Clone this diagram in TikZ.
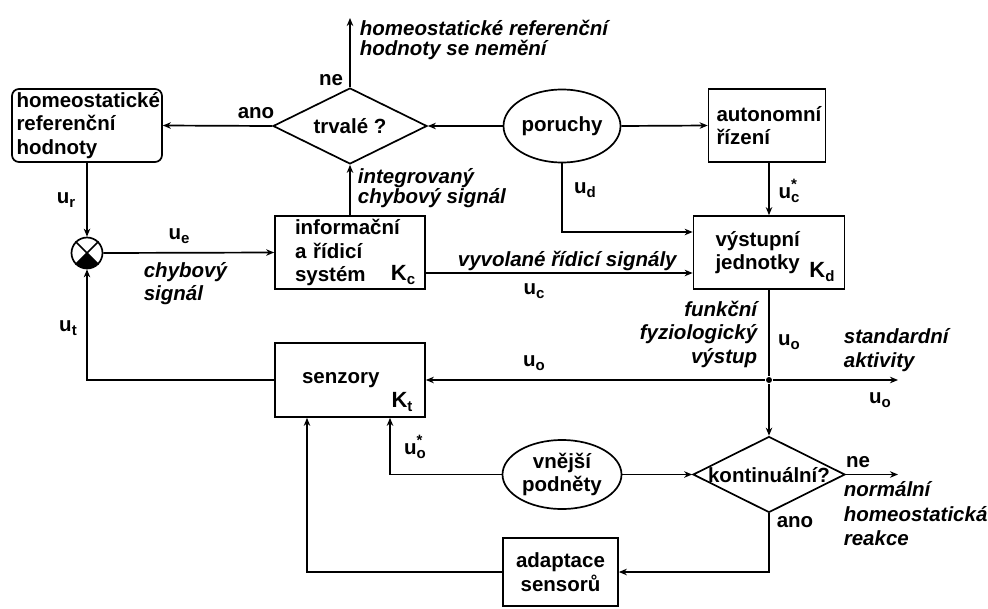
\documentclass[tikz,border=0pt]{standalone}
\usepackage{fontspec}
\setmainfont{Liberation Sans}
\usetikzlibrary{shapes.geometric, positioning, arrows.meta}
\newcommand*{\sig}[2]{#1\raisebox{-0.4ex}{\fontsize{15}{15}\selectfont #2}}
\newcommand*{\sigs}[2]{#1\raisebox{-0.4ex}{\fontsize{15}{15}\selectfont\makebox[0pt][l]{\raisebox{1.6ex}{*}}#2}}

\begin{document}
\begin{tikzpicture}[x=1pt,y=-1pt,line width=1.7pt,
		font=\fontsize{20.5}{23.5}\selectfont\bfseries,
		>={Stealth[length=8pt,width=6.5pt,inset=2.5pt]},
		blok/.style={draw,rectangle,minimum width=#1,minimum height=73pt,inner sep=0pt},
		ovl/.style={draw,ellipse,inner sep=0pt,align=center},
		rozh/.style={draw,diamond,aspect=2,inner sep=0pt,minimum width=154pt,minimum height=76pt},
		lbl/.style={inner sep=0pt},
		ital/.style={inner sep=0pt,align=left,font=\fontsize{20.5}{#1}\selectfont\bfseries\itshape},
		ital/.default=22pt]
	\useasboundingbox (0,0) rectangle (988,608);
	% bloky
	\node[blok=150pt,rounded corners=7pt,text width=141pt,align=left] (ref) at (87,125.5) {homeostatické\\referenční\\hodnoty};
	\node[rozh] (trv) at (350,126) {trvalé ?};
	\node[ovl,minimum width=117pt,minimum height=73pt] (por) at (562,126) {poruchy};
	\node[blok=117pt,text width=101pt,align=left] (aut) at (767,125.5) {autonomní\\řízení};
	\node[draw,circle,inner sep=0pt,minimum size=31pt] (sum) at (87,253) {};
	\node[blok=150pt,text width=110pt,align=left] (inf) at (350,252.5) {informační\\a řídicí\\systém};
	\node[blok=151pt,text width=107pt,align=left] (vys) at (769,252.5) {výstupní\\jednotky};
	\node[blok=150pt,text width=96pt,align=left,minimum height=74pt] (sen) at (350,380) {senzory};
	\node[circle,fill,inner sep=0pt,minimum size=6pt] (dot) at (769,380) {};
	\node[ovl,minimum width=119pt,minimum height=69pt] (vne) at (562,474.5) {vnější\\podněty};
	\node[rozh,minimum width=152pt] (kon) at (769,474.5) {\raisebox{0pt}[\height][0pt]{kontinuální?}};
	\node[blok=115pt,minimum height=68pt,align=center] (ada) at (560.5,572) {adaptace\\sensorů};
	\coordinate (nahoru) at (350,18);
	\coordinate (ven) at (898,380);
	\coordinate (ven2) at (898,474.5);
	% sumator
	\fill (sum.center) -- ++(-135:15.5pt) arc[start angle=-135,end angle=-45,radius=15.5pt] -- cycle;
	\draw (sum.north west) -- (sum.south east) (sum.north east) -- (sum.south west);
	% spoje
	\draw[->] (trv.north) -- (nahoru);
	\draw[->] (trv.west) -- (ref.east);
	\draw[->] (por.west) -- (trv.east);
	\draw[->] (por.east) -- (aut.west);
	\draw[->] (por.south) |- ([yshift=20.5pt]vys.west);
	\draw[->] (aut.south -| vys.north) -- (vys.north);
	\draw[->] (inf.north) -- (trv.south);
	\draw[->] (ref.south) -- (sum.north);
	\draw[->] (sum.east) -- (inf.west);
	\draw[->] ([yshift=-20.5pt]inf.east) -- ([yshift=-20.5pt]vys.west);
	\draw (vys.south) -- (dot);
	\draw[->] (dot) -- (kon.north);
	\draw[->] (dot) -- (sen.east);
	\draw[->] (dot) -- (ven);
	\draw[->] (sen.west) -| (sum.south);
	\draw[->] (kon.east) -- (ven2);
	\draw[->] (kon.south) |- (ada.east);
	\draw[->] (vne.east) -- (kon.west);
	\draw[->] (vne.west) -| ([xshift=40pt]sen.south);
	\draw[->] (ada.west) -| ([xshift=-43pt]sen.south);
	% popisky
	\node[lbl] (lne1) at (331,80) {ne};
	\node[lbl] (lano1) at (256,113) {ano};
	\node[ital=20pt,anchor=north west] (lhom) at (359,19) {homeostatické referenční\\hodnoty se nemění};
	\node[ital=20pt,anchor=north west] (lint) at (357,168) {integrovaný\\chybový signál};
	\node[lbl] (lur) at (66,200) {\sig{u}{r}};
	\node[lbl] (lue) at (179,236) {\sig{u}{e}};
	\node[ital=23pt,anchor=north west] (lchyb) at (143,262) {chybový\\signál};
	\node[lbl] (lut) at (68,328) {\sig{u}{t}};
	\node[lbl] (lud) at (585,190) {\sig{u}{d}};
	\node[lbl] (luc2) at (789,191) {\sigs{u}{c}};
	\node[ital,anchor=north west] (lvyv) at (457,250) {vyvolané řídicí signály};
	\node[lbl] (luc) at (534,291) {\sig{u}{c}};
	\node[ital=23.5pt,anchor=north east,align=right] (lfun) at (758,300) {funkční\\fyziologický\\výstup};
	\node[lbl] (luo1) at (789,342) {\sig{u}{o}};
	\node[lbl] (luo2) at (534,363) {\sig{u}{o}};
	\node[ital=24pt,anchor=north west] (lstd) at (843,328) {standardní\\aktivity};
	\node[lbl] (luo3) at (880,400) {\sig{u}{o}};
	\node[lbl] (luo4) at (415,447) {\sigs{u}{o}};
	\node[lbl] (lne2) at (858,462) {ne};
	\node[lbl] (lano2) at (795,522) {ano};
	\node[ital=24.5pt,anchor=north west] (lnor) at (843,481) {normální\\homeostatická\\reakce};
	\node[lbl,font=\fontsize{22}{22}\selectfont\bfseries] (kc) at (403,275) {\sig{K}{c}};
	\node[lbl,font=\fontsize{22}{22}\selectfont\bfseries] (kt) at (402,402) {\sig{K}{t}};
	\node[lbl,font=\fontsize{22}{22}\selectfont\bfseries] (kd) at (822,272) {\sig{K}{d}};
\end{tikzpicture}
\end{document}
